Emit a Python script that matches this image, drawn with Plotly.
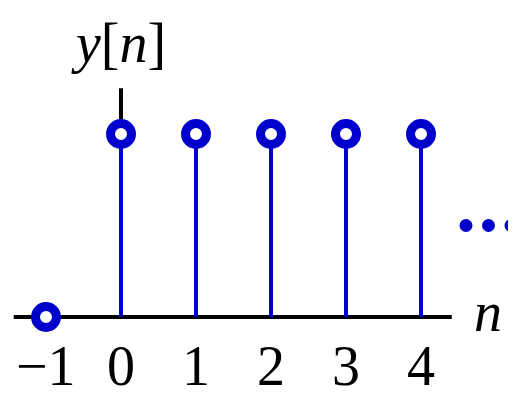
import plotly.graph_objects as go

# datos de la secuencia y[n]
n = [-1, 0, 1, 2, 3, 4]
y = [0, 1, 1, 1, 1, 1]
tick_text = ["\u22121", "0", "1", "2", "3", "4"]
dots_n = [4.6, 4.9, 5.2]
dots_y = [0.5, 0.5, 0.5]

azul = "#0000cc"
fuente = "Liberation Serif"

# tallos
stem_x, stem_y = [], []
for xi, yi in zip(n, y):
    stem_x += [xi, xi, None]
    stem_y += [0, yi, None]

fig = go.Figure()
fig.add_trace(go.Scatter(x=stem_x, y=stem_y, mode="lines",
                         line=dict(color=azul, width=4), hoverinfo="skip"))
fig.add_trace(go.Scatter(x=n, y=y, mode="markers", cliponaxis=False,
                         marker=dict(symbol="circle", size=21, color="white",
                                     line=dict(color=azul, width=9))))
fig.add_trace(go.Scatter(x=dots_n, y=dots_y, mode="markers", cliponaxis=False,
                         marker=dict(size=13, color=azul)))

# ejes
fig.add_shape(type="line", x0=-1.43, x1=4.41, y0=0, y1=0, layer="below",
              line=dict(color="black", width=4))
fig.add_shape(type="line", x0=0, x1=0, y0=0, y1=1.25, layer="below",
              line=dict(color="black", width=4))

# etiquetas
for xi, t in zip(n, tick_text):
    fig.add_annotation(x=xi, y=-0.27, text=t, showarrow=False, height=44,
                       font=dict(family=fuente, size=56, color="black"))
fig.add_annotation(x=4.89, y=0.03, text="<i>n</i>", showarrow=False,
                   font=dict(family=fuente, size=56, color="black"))
fig.add_annotation(x=-0.04, y=1.5, text="<i>y</i>[<i>n</i>]", showarrow=False,
                   font=dict(family=fuente, size=56, color="black"))

# la página tiene 8 px de margen, la figura ocupa el resto de la ventana
fig.update_layout(
    width=508, height=385,
    margin=dict(l=0, r=0, t=0, b=0),
    paper_bgcolor="white", plot_bgcolor="white",
    showlegend=False,
    xaxis=dict(range=[-1.5067, 5.2667], visible=False),
    yaxis=dict(range=[-0.4153, 1.6885], visible=False),
)

fig.write_html("out.html")
